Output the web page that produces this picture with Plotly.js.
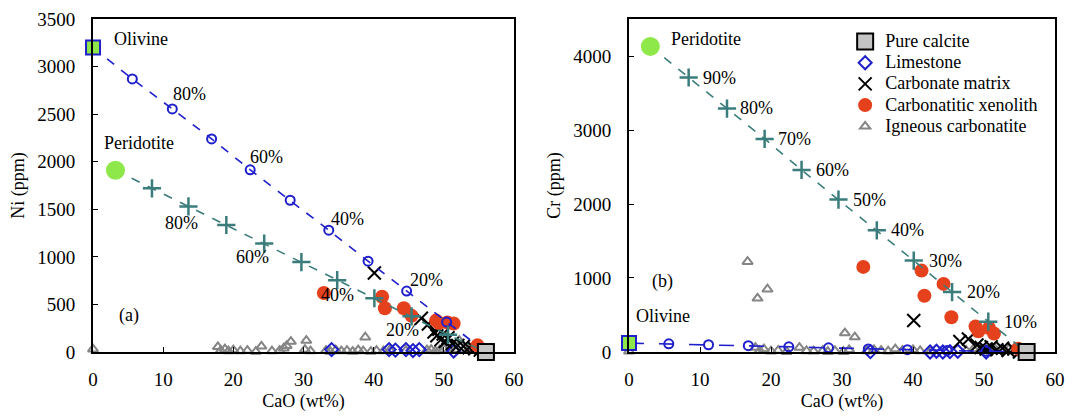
<!DOCTYPE html>
<html>
<head>
<meta charset="utf-8">
<script src="https://cdn.plot.ly/plotly-3.0.1.min.js"></script>
<style>html,body{margin:0;padding:0;background:#fff;}#chart{width:1078px;height:418px;}</style>
</head>
<body>
<div id="chart"></div>
<script>
// ---------- tick values ----------
const caoTicks = [0, 10, 20, 30, 40, 50, 60];
const niTicks = [0, 500, 1000, 1500, 2000, 2500, 3000, 3500];
const crTicks = [0, 1000, 2000, 3000, 4000];

// ---------- (a) Ni vs CaO ----------
const olivineNi = {x: [0], y: [3200]};
const peridotiteNi = {x: [3.2], y: [1910]};
const calcite = {x: [56], y: [0]};
const olNiX = [5.6, 11.3, 16.9, 22.4, 28.1, 33.6, 39.2, 44.7, 50.4];
const olNiY = [2870, 2555, 2240, 1915, 1595, 1280, 955, 640, 315];
const perNiX = [8.4, 13.6, 19.0, 24.4, 29.7, 34.8, 40.1, 45.4, 50.6];
const perNiY = [1720, 1530, 1335, 1140, 945, 755, 565, 375, 180];
const limNiX = [34.0, 42.2, 43.1, 44.6, 45.6, 46.5, 51.4];
const limNiY = [25, 25, 20, 25, 15, 25, 10];
const cmNiX = [40.1, 46.8, 47.8, 48.6, 49.0, 49.3, 49.6, 49.9, 50.2, 50.6, 51.2, 52.0, 52.8, 53.6, 54.4, 55.2];
const cmNiY = [830, 355, 295, 210, 170, 240, 130, 190, 110, 150, 90, 70, 60, 45, 35, 20];
const cxNiX = [32.9, 41.2, 41.6, 44.3, 45.4, 48.9, 49.3, 50.5, 51.4, 54.8];
const cxNiY = [620, 580, 460, 460, 380, 330, 305, 310, 300, 70];
const igNiX = [0, 17.8, 18.2, 18.8, 19.3, 20.0, 21.0, 22.0, 23.2, 24.0, 25.5, 26.6, 27.2, 27.6, 28.2, 30.2, 30.4, 31.0, 33.2, 33.8, 34.6, 35.4, 36.2, 37.0, 37.8, 38.5, 38.8, 39.6, 40.4, 41.4, 42.3, 44.6, 47.6, 48.2, 48.8, 49.4, 50.0, 50.8, 51.6, 52.2, 52.8, 53.6, 54.4];
const igNiY = [30, 55, 15, 30, 10, 20, 10, 15, 5, 60, 10, 15, 40, 65, 110, 25, 120, 10, 15, 5, 20, 10, 15, 5, 20, 10, 155, 5, 15, 10, 20, 15, 20, 25, 10, 20, 30, 15, 25, 120, 20, 40, 15];
const olNiLabels = ["80%", "60%", "40%", "20%"];
const olNiLabX = [13.7, 24.7, 36.2, 47.5];
const olNiLabY = [2712, 2054, 1400, 760];
const perNiLabels = ["80%", "60%", "40%", "20%"];
const perNiLabX = [12.6, 22.8, 34.8, 44.1];
const perNiLabY = [1355, 998, 595, 235];

// ---------- (b) Cr vs CaO ----------
const olivineCr = {x: [0], y: [120]};
const peridotiteCr = {x: [3.0], y: [4130]};
const olCrX = [5.6, 11.2, 16.8, 22.5, 28.1, 33.7, 39.2, 44.8, 50.3];
const olCrY = [110, 98, 85, 70, 56, 42, 31, 19, 9];
const perCrX = [8.4, 13.8, 19.1, 24.3, 29.5, 34.9, 40.1, 45.5, 50.6];
const perCrY = [3710, 3290, 2880, 2460, 2060, 1645, 1235, 810, 410];
const limCrX = [34.0, 42.4, 43.3, 44.2, 45.2, 46.3, 50.3];
const limCrY = [5, 0, 10, 0, 5, 10, 0];
const cmCrX = [40.1, 46.6, 47.8, 49.0, 49.6, 50.3, 51.0, 51.8, 52.6, 53.4, 54.2, 55.0];
const cmCrY = [426, 143, 175, 95, 60, 40, 70, 30, 50, 20, 40, 0];
const cxCrX = [33.0, 41.2, 41.6, 44.3, 45.4, 48.8, 49.2, 50.7, 51.4, 54.8];
const cxCrY = [1150, 1100, 760, 920, 470, 345, 280, 325, 250, 45];
const igCrX = [0, 16.7, 17.8, 18.1, 18.4, 19.0, 19.5, 20.0, 21.0, 22.2, 24.0, 25.0, 26.0, 27.3, 28.0, 29.0, 30.2, 30.4, 31.0, 31.8, 33.5, 34.5, 35.5, 36.5, 37.5, 38.5, 40.0, 41.0, 42.5, 47.5, 48.5, 49.5, 50.5, 51.5, 52.5, 53.5, 54.5];
const igCrY = [10, 1220, 60, 726, 20, 40, 848, 10, 20, 5, 60, 15, 10, 20, 5, 15, 5, 256, 30, 202, 15, 30, 20, 10, 40, 20, 30, 15, 10, 20, 40, 30, 20, 50, 30, 40, 20];
const perCrLabels = ["90%", "80%", "70%", "60%", "50%", "40%", "30%", "20%", "10%"];
const perCrLabX = [12.7, 18.0, 23.3, 28.6, 33.9, 39.2, 44.6, 49.9, 55.2];
const perCrLabY = [3709, 3291, 2879, 2462, 2058, 1646, 1233, 807, 399];

const seriesNames = ["Pure calcite", "Limestone", "Carbonate matrix", "Carbonatitic xenolith", "Igneous carbonatite"];

const FONT = "Liberation Serif";
const BLUE = "#1f1fcc";
const TEAL = "#3b7d7c";
const GREEN = "#8ee84a";
const RED = "#e5411d";
const GRAY = "#858585";

function lname(i) { return '<span style="font-size:18px">' + seriesNames[i] + '</span>'; }
function tickText(v) { return '<span style="font-family:Liberation Serif;font-size:19px;fill:#000">' + v + '</span>'; }

function traces(ax, ay, d, legend) {
  const base = {xaxis: ax, yaxis: ay, cliponaxis: false, type: "scatter"};
  const t = [];
  t.push(Object.assign({}, base, {x: d.igX, y: d.igY, mode: "markers", name: lname(4), legendrank: 5, showlegend: legend,
    marker: {symbol: "triangle-up-open", size: 9, color: GRAY, line: {width: 2, color: GRAY}}}));
  t.push(Object.assign({}, base, {x: d.limX, y: d.limY, mode: "markers", name: lname(1), legendrank: 2, showlegend: legend,
    marker: {symbol: "diamond-open", size: 10, color: BLUE, line: {width: 2, color: BLUE}}}));
  t.push(Object.assign({}, base, {x: d.cmX, y: d.cmY, mode: "markers", name: lname(2), legendrank: 3, showlegend: legend,
    marker: {symbol: "x-thin-open", size: 13, color: "#000", line: {width: 2, color: "#000"}}}));
  t.push(Object.assign({}, base, {x: d.cxX, y: d.cxY, mode: "markers", name: lname(3), legendrank: 4, showlegend: legend,
    marker: {symbol: "circle", size: 14, color: RED}}));
  t.push(Object.assign({}, base, {x: d.olEnd.x.concat(d.olX, calcite.x), y: d.olEnd.y.concat(d.olY, calcite.y), mode: "lines", showlegend: false,
    line: {color: BLUE, width: 1.6, dash: d.olDash}}));
  t.push(Object.assign({}, base, {x: d.olX, y: d.olY, mode: "markers", showlegend: false,
    marker: {symbol: "circle-open", size: 9, color: BLUE, line: {width: 2, color: BLUE}}}));
  t.push(Object.assign({}, base, {x: d.perEnd.x.concat(d.perX, calcite.x), y: d.perEnd.y.concat(d.perY, calcite.y), mode: "lines", showlegend: false,
    line: {color: TEAL, width: 1.6, dash: "dash"}}));
  t.push(Object.assign({}, base, {x: d.perX, y: d.perY, mode: "markers", showlegend: false,
    marker: {symbol: "cross-thin-open", size: 13, color: TEAL, line: {width: 2.5, color: TEAL}}}));
  t.push(Object.assign({}, base, {x: d.olEnd.x, y: d.olEnd.y, mode: "markers", showlegend: false,
    marker: {symbol: "square", size: 14, color: GREEN, line: {width: 2, color: BLUE}}}));
  t.push(Object.assign({}, base, {x: d.perEnd.x, y: d.perEnd.y, mode: "markers", showlegend: false,
    marker: {symbol: "circle", size: 19, color: GREEN}}));
  t.push(Object.assign({}, base, {x: calcite.x, y: calcite.y, mode: "markers", name: lname(0), legendrank: 1, showlegend: legend,
    marker: {symbol: "square", size: 16, color: "#c4c4c4", line: {width: 2, color: "#000"}}}));
  return t;
}

const data = traces("x", "y", {
  igX: igNiX, igY: igNiY, limX: limNiX, limY: limNiY, cmX: cmNiX, cmY: cmNiY, cxX: cxNiX, cxY: cxNiY,
  olEnd: olivineNi, olX: olNiX, olY: olNiY, olDash: "dash", perEnd: peridotiteNi, perX: perNiX, perY: perNiY
}, false).concat(traces("x2", "y2", {
  igX: igCrX, igY: igCrY, limX: limCrX, limY: limCrY, cmX: cmCrX, cmY: cmCrY, cxX: cxCrX, cxY: cxCrY,
  olEnd: olivineCr, olX: olCrX, olY: olCrY, olDash: "longdash", perEnd: peridotiteCr, perX: perCrX, perY: perCrY
}, true));

const ann = [];
function addAnn(xr, yr, xs, ys, texts) {
  for (let i = 0; i < texts.length; i++) {
    ann.push({xref: xr, yref: yr, x: xs[i], y: ys[i], text: texts[i], showarrow: false, xanchor: "center", yanchor: "middle",
      font: {family: FONT, size: 18, color: "#000"}});
  }
}
addAnn("x", "y", olNiLabX, olNiLabY, olNiLabels);
addAnn("x", "y", perNiLabX, perNiLabY, perNiLabels);
addAnn("x", "y", [6.9, 6.6, 5.1], [3290, 2195, 385], ["Olivine", "Peridotite", "(a)"]);
addAnn("x2", "y2", perCrLabX, perCrLabY, perCrLabels);
addAnn("x2", "y2", [10.9, 4.8, 4.7], [4224, 489, 951], ["Peridotite", "Olivine", "(b)"]);

const TICKFONT = {family: FONT, size: 19, color: "#000000"};

function xax(domain, anchor) {
  return {domain: domain, anchor: anchor, range: [0, 60], tickmode: "array", tickvals: caoTicks, ticktext: caoTicks.map(tickText),
    showgrid: false, zeroline: false,
    showline: true, mirror: true, linecolor: "#000", linewidth: 2, ticks: "inside", ticklen: 5, tickcolor: "#000",
    ticklabelstandoff: 9, tickfont: TICKFONT,
    title: {text: "CaO (wt%)", font: {family: FONT, size: 18, color: "#000"}, standoff: 6}};
}
function yax(domain, anchor, range, tv, title) {
  return {domain: domain, anchor: anchor, range: range, tickmode: "array", tickvals: tv, ticktext: tv.map(tickText),
    showgrid: false, zeroline: false,
    showline: true, mirror: true, linecolor: "#000", linewidth: 2, ticks: "inside", ticklen: 5, tickcolor: "#000",
    ticklabelstandoff: 12, tickfont: TICKFONT,
    title: {text: title, font: {family: FONT, size: 18, color: "#000"}, standoff: 8}};
}

const yd = [0.1579, 0.9545];
const layout = {
  width: 1078, height: 418,
  margin: {l: 0, r: 0, t: 0, b: 0},
  paper_bgcolor: "#fff", plot_bgcolor: "#fff",
  font: {family: FONT, size: 18, color: "#000"},
  xaxis: xax([0.0863, 0.4768], "y"),
  yaxis: yax(yd, "x", [0, 3500], niTicks, "Ni (ppm)"),
  xaxis2: xax([0.5835, 0.9787], "y2"),
  yaxis2: yax(yd, "x2", [0, 4500], crTicks, "Cr (ppm)"),
  showlegend: true,
  legend: {x: 0.784, y: 0.938, xanchor: "left", yanchor: "top", bgcolor: "rgba(0,0,0,0)", borderwidth: 0,
    itemwidth: 30, tracegroupgap: 0, font: {family: FONT, size: 14, color: "#000"}},
  annotations: ann
};

Plotly.newPlot("chart", data, layout, {staticPlot: true});
</script>
</body>
</html>
